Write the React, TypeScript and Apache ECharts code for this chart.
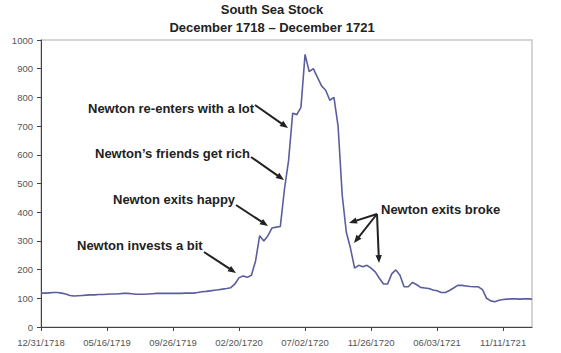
import React, { useEffect, useRef } from "react";
import * as echarts from "echarts";

const titleLines = ["South Sea Stock", "December 1718 \u2013 December 1721"];

const tickLabels = [
  "12/31/1718",
  "05/16/1719",
  "09/26/1719",
  "02/20/1720",
  "07/02/1720",
  "11/26/1720",
  "06/03/1721",
  "11/11/1721",
];

const pointsPerTick = 16;

const prices = [
  118, 118, 119, 120, 120, 118, 115, 110, 108, 109,
  110, 111, 112, 112, 113, 113, 114, 115, 115, 116,
  117, 117, 116, 114, 114, 114, 115, 116, 117, 117,
  117, 117, 117, 117, 117, 118, 118, 118, 120, 123,
  124, 126, 128, 130, 132, 134, 137, 150, 172, 178,
  173, 180, 230, 318, 300, 318, 345, 348, 350, 480,
  580, 745, 740, 765, 950, 890, 900, 870, 840, 825,
  790, 800, 700, 460, 330, 275, 205, 215, 210, 215,
  205, 192, 170, 150, 150, 185, 199, 180, 140, 140,
  155, 148, 138, 136, 134, 129, 126, 120, 120, 127,
  136, 145, 145, 143, 141, 140, 140, 130, 100, 91,
  88, 93, 96, 97, 98, 98, 97, 98, 98, 97,
];

const categories = prices.map((_, i) =>
  i % pointsPerTick === 0 ? tickLabels[i / pointsPerTick] : ""
);

const noteTexts = [
  "Newton re-enters with a lot",
  "Newton\u2019s friends get rich",
  "Newton exits happy",
  "Newton invests a bit",
  "Newton exits broke",
];

// layout of annotations (pixels)
const notePos: [number, number][] = [
  [88, 108],
  [95, 153],
  [113, 199],
  [77, 245],
  [381, 209],
];

const arrowPos: [number, number, number, number][] = [
  [255, 105, 288, 128],
  [251, 157, 284, 180],
  [236, 205, 268, 226],
  [204, 252, 236, 273],
  [377, 214, 349, 223],
  [377, 214, 354, 243],
  [377, 214, 379, 263],
];

function arrow(x1: number, y1: number, x2: number, y2: number) {
  const dx = x2 - x1;
  const dy = y2 - y1;
  const len = Math.sqrt(dx * dx + dy * dy);
  const ux = dx / len;
  const uy = dy / len;
  const L = 8;
  const W = 3.2;
  const bx = x2 - ux * L;
  const by = y2 - uy * L;
  return [
    {
      type: "line",
      shape: { x1, y1, x2: bx + ux * 2, y2: by + uy * 2 },
      style: { stroke: "#222", lineWidth: 2 },
      z: 100,
    },
    {
      type: "polygon",
      shape: {
        points: [
          [x2, y2],
          [bx - uy * W, by + ux * W],
          [bx + uy * W, by - ux * W],
        ],
      },
      style: { fill: "#222" },
      z: 100,
    },
  ];
}

export default function App() {
  const ref = useRef<HTMLDivElement>(null);

  useEffect(() => {
    if (!ref.current) return;
    const chart = echarts.init(ref.current, undefined, { renderer: "svg" });

    const font = "bold 13px Arial, 'Liberation Sans', sans-serif";
    const graphics: any[] = [
      {
        type: "text",
        x: 272,
        y: 9,
        style: {
          text: titleLines[0],
          font,
          fill: "#222",
          textAlign: "center",
          textVerticalAlign: "middle",
        },
      },
      {
        type: "text",
        x: 272,
        y: 27,
        style: {
          text: titleLines[1],
          font,
          fill: "#222",
          textAlign: "center",
          textVerticalAlign: "middle",
        },
      },
    ];
    noteTexts.forEach((t, i) => {
      graphics.push({
        type: "text",
        x: notePos[i][0],
        y: notePos[i][1],
        z: 100,
        style: {
          text: t,
          font,
          fill: "#222",
          textAlign: "left",
          textVerticalAlign: "middle",
        },
      });
    });
    arrowPos.forEach((a) => {
      graphics.push(...arrow(a[0], a[1], a[2], a[3]));
    });

    chart.setOption({
      animation: false,
      backgroundColor: "#fff",
      grid: {
        left: 41,
        top: 40,
        right: 29,
        bottom: 26,
        show: true,
        borderColor: "#c8c8c8",
        borderWidth: 1.5,
        backgroundColor: "transparent",
      },
      xAxis: {
        type: "category",
        data: categories,
        boundaryGap: false,
        axisLine: { lineStyle: { color: "#444", width: 1 } },
        axisTick: {
          interval: pointsPerTick - 1,
          length: 4,
          lineStyle: { color: "#444" },
        },
        axisLabel: {
          interval: pointsPerTick - 1,
          fontSize: 9.5,
          color: "#555",
          margin: 10,
          fontFamily: "Arial, 'Liberation Sans', sans-serif",
        },
        splitLine: { show: false },
      },
      yAxis: {
        type: "value",
        min: 0,
        max: 1000,
        interval: 100,
        axisLine: { show: true, lineStyle: { color: "#444", width: 1 } },
        axisTick: { show: true, length: 4, lineStyle: { color: "#444" } },
        axisLabel: {
          fontSize: 9.5,
          color: "#555",
          margin: 8,
          fontFamily: "Arial, 'Liberation Sans', sans-serif",
          formatter: (v: number) => String(v),
        },
        splitLine: { show: false },
      },
      series: [
        {
          type: "line",
          data: prices,
          symbol: "none",
          lineStyle: { color: "#5a5e9e", width: 1.6 },
        },
      ],
      graphic: graphics,
    });

    return () => chart.dispose();
  }, []);

  return (
    <div
      ref={ref}
      style={{ position: "fixed", left: 0, top: 0, width: 561, height: 353 }}
    />
  );
}
